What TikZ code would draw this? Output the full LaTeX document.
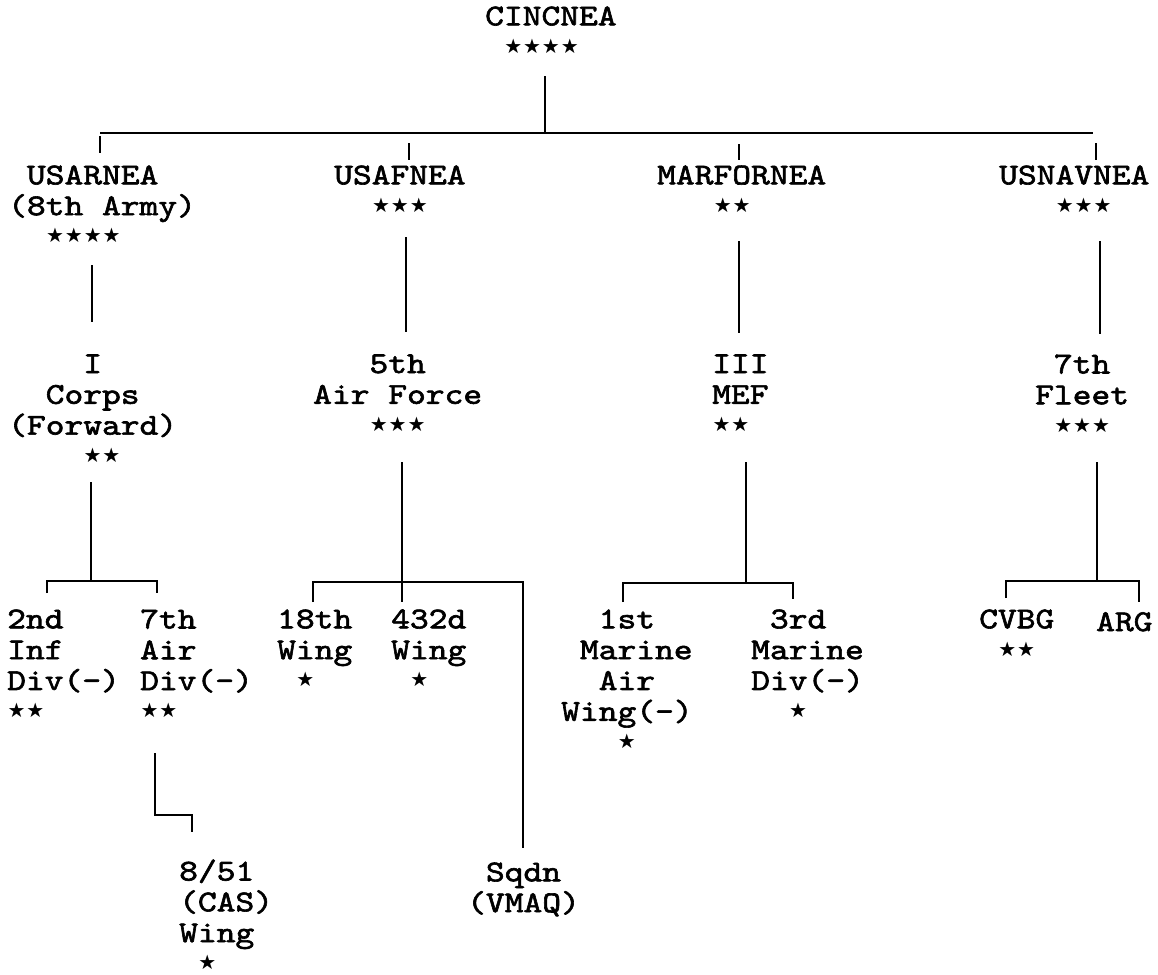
\documentclass[tikz,border=0pt]{standalone}
\usepackage{fontspec}
\newfontfamily\chartfont{lmmono10-regular.otf}[FakeStretch=1.18, FakeBold=2]
\newfontfamily\starfont{DejaVu Sans}
\lineskiplimit=-100pt
% one general-officer star, one character cell wide
\newcommand\rk{\makebox[18.8pt]{\raisebox{3pt}{\starfont\fontsize{20}{20}\selectfont ★}}}
\newcommand\grade[1]{\foreach \i in {1,...,#1}{\rk}}
\tikzset{
  unitbox/.style={anchor=north west, inner sep=0pt, align=left,
    font=\chartfont\fontsize{30.3}{30.8}\selectfont,
    execute at begin node={\rule{0pt}{21.56pt}}},
  wire/.style={line width=2.4pt}
}
\begin{document}
\begin{tikzpicture}[x=1pt, y=-1pt]
  \useasboundingbox (0,0) rectangle (1158,974);
  % Command level.
  \node[unitbox] (cinc) at (485,6.3) {CINCNEA\\~\grade{4}};
  % Component commands.
  \node[unitbox] (usar)  at (8,165.3)   {~USARNEA\\(8th Army)\\~~\grade{4}};
  \node[unitbox] (usaf)  at (334,165.3) {USAFNEA\\~~\grade{3}};
  \node[unitbox] (marf)  at (657,165.3) {MARFORNEA\\~~~\grade{2}};
  \node[unitbox] (usnav) at (999,165.3) {USNAVNEA\\~~~\grade{3}};
  % Numbered forces.
  \node[unitbox] (corps) at (8,354.3)    {~~~~I\\~~Corps\\(Forward)\\~~~~\grade{2}};
  \node[unitbox] (af5)   at (313,354.3)  {~~~5th\\Air Force\\~~~\grade{3}};
  \node[unitbox] (mef)   at (712,354.3)  {III\\MEF\\\grade{2}};
  \node[unitbox] (fleet) at (1035,354.3) {~7th\\Fleet\\~\grade{3}};
  % Subordinate units.
  \node[unitbox] (inf2)  at (7,609.3)    {2nd\\Inf\\Div(-)\\\grade{2}};
  \node[unitbox] (air7)  at (140,609.3)  {7th\\Air\\Div(-)\\\grade{2}};
  \node[unitbox] (w18)   at (277,609.3)  {18th\\Wing\\~\grade{1}};
  \node[unitbox] (w432)  at (391,609.3)  {432d\\Wing\\~\grade{1}};
  \node[unitbox] (mar1)  at (561,609.3)  {~~1st\\~Marine\\~~Air\\Wing(-)\\~~~\grade{1}};
  \node[unitbox] (mar3)  at (751,609.3)  {~3rd\\Marine\\Div(-)\\~~\grade{1}};
  \node[unitbox] (cvbg)  at (979,609.3)  {CVBG\\~\grade{2}};
  \node[unitbox] (arg)   at (1096,609.3) {ARG};
  \node[unitbox] (cas)   at (179,859.3)  {8/51\\(CAS)\\Wing\\~\grade{1}};
  \node[unitbox] (sqdn)  at (467,862.3)  {~Sqdn\\(VMAQ)};
  % Junction points.
  \coordinate (cincS) at (545,76);   \coordinate (hq)    at (545,133);
  \coordinate (barL)  at (100,133);  \coordinate (barR)  at (1093,133);
  \coordinate (usarN) at (100,136);  \coordinate (usarT) at (100,153);
  \coordinate (usafN) at (409,143);  \coordinate (usafT) at (409,160);
  \coordinate (marfN) at (739,144);  \coordinate (marfT) at (739,160);
  \coordinate (navN)  at (1096,143); \coordinate (navT)  at (1096,160);
  \coordinate (usarS) at (92,265);   \coordinate (corpsN) at (92,322);
  \coordinate (usafS) at (406,237);  \coordinate (af5N)  at (406,332);
  \coordinate (marfS) at (739,241);  \coordinate (mefN)  at (739,333);
  \coordinate (navS)  at (1100,241); \coordinate (fleetN) at (1100,334);
  \coordinate (corpsS) at (91,482);  \coordinate (corpsJ) at (91,581);
  \coordinate (af5S)  at (402,462);  \coordinate (af5J)  at (402,582);
  \coordinate (mefS)  at (746,462);  \coordinate (mefJ)  at (746,583);
  \coordinate (fleetS) at (1097,462); \coordinate (fleetJ) at (1097,581);
  % Top level tree.
  \draw[wire] (cincS) -- (hq);
  \draw[wire] (barL) -- (barR);
  \draw[wire] (usarN) -- (usarT);
  \draw[wire] (usafN) -- (usafT);
  \draw[wire] (marfN) -- (marfT);
  \draw[wire] (navN) -- (navT);
  % Components to numbered forces.
  \draw[wire] (usarS) -- (corpsN);
  \draw[wire] (usafS) -- (af5N);
  \draw[wire] (marfS) -- (mefN);
  \draw[wire] (navS) -- (fleetN);
  % Numbered forces to units.
  \draw[wire] (corpsS) -- (corpsJ);
  \draw[wire] (47,593) -- (47,581) -- (157,581) -- (157,593);
  \draw[wire] (af5S) -- (af5J);
  \draw[wire] (313,602) -- (313,582) -- (523,582) -- (523,848);
  \draw[wire] (af5J) -- (402,602);
  \draw[wire] (155,753) -- (155,815) -- (192,815) -- (192,832);
  \draw[wire] (mefS) -- (mefJ);
  \draw[wire] (623,602) -- (623,583) -- (793,583) -- (793,599);
  \draw[wire] (fleetS) -- (fleetJ);
  \draw[wire] (1006,598) -- (1006,581) -- (1139,581) -- (1139,602);
\end{tikzpicture}
\end{document}
